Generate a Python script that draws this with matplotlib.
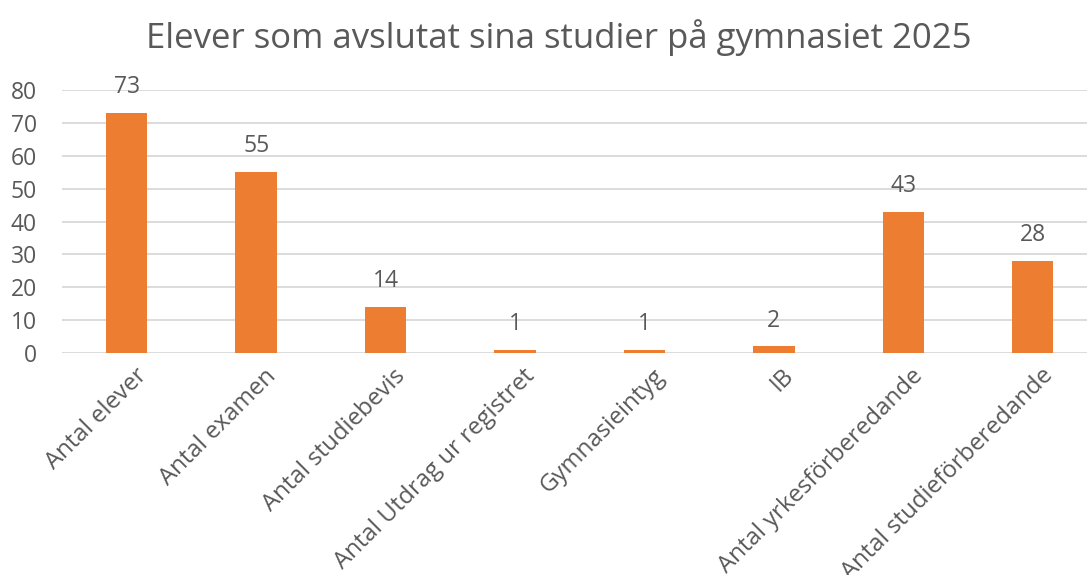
import matplotlib
matplotlib.use("Agg")
from matplotlib import pyplot as plt
import matplotlib.transforms as mtransforms

plt.rcParams['font.family'] = ['Open Sans', 'DejaVu Sans']

# data
categories = ["Antal elever", "Antal examen", "Antal studiebevis",
              "Antal Utdrag ur registret", "Gymnasieintyg", "IB",
              "Antal yrkesförberedande", "Antal studieförberedande"]
values = [73, 55, 14, 1, 1, 2, 43, 28]
yticks = [0, 10, 20, 30, 40, 50, 60, 70, 80]

ORANGE = "#ED7D31"
TEXT = "#595959"
GRID = "#D9D9D9"

fig = plt.figure(figsize=(10.87, 5.75), dpi=100)
ax = fig.add_axes([62 / 1087, 0.386, 1 - 62 / 1087, 0.4575])

x = range(len(categories))
ax.bar(x, values, width=0.32, color=ORANGE, zorder=3)

for xi, v in zip(x, values):
    ax.annotate(str(v), (xi, v), xytext=(0, 10), textcoords="offset points",
                ha="center", va="bottom", fontsize=16.5, color=TEXT)

ax.set_xlim(-0.5, 7.42)
ax.set_ylim(0, 80)
ax.set_yticks(yticks)
ax.yaxis.grid(True, color=GRID, linewidth=1.3, zorder=0)
for s in ax.spines.values():
    s.set_visible(False)
ax.tick_params(axis="both", length=0, labelsize=16.5, labelcolor=TEXT)
ax.tick_params(axis="y", pad=18)

ax.set_xticks(list(x))
ax.set_xticklabels(categories, rotation=45, ha="right", rotation_mode="anchor",
                   fontsize=17.3)
offset = mtransforms.ScaledTranslation(8 / 100, -6 / 100, fig.dpi_scale_trans)
for lbl in ax.get_xticklabels():
    lbl.set_transform(lbl.get_transform() + offset)

fig.text(0.514, 0.935, "Elever som avslutat sina studier på gymnasiet 2025",
         ha="center", va="center", fontsize=25, color=TEXT)

fig.savefig("out.png", dpi=100)
